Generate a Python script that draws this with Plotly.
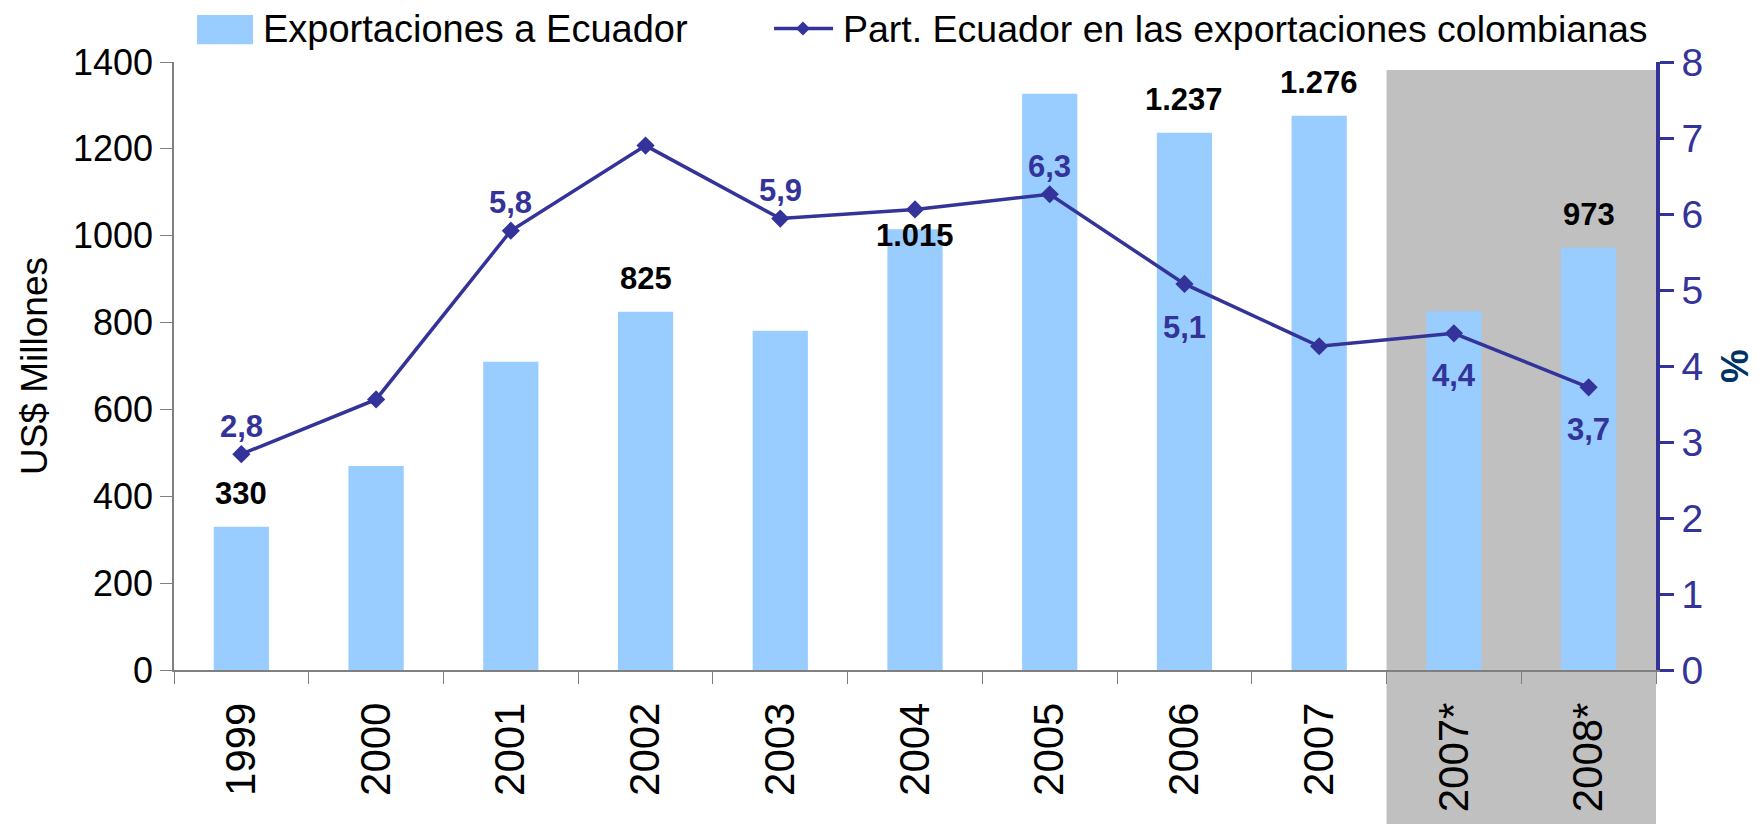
import plotly.graph_objects as go

# ---- data ----
categories = ["1999", "2000", "2001", "2002", "2003", "2004", "2005", "2006", "2007", "2007*", "2008*"]
export_values = [330, 470, 710, 825, 781, 1015, 1327, 1237, 1276, 826, 973]
share_values = [2.84, 3.56, 5.78, 6.90, 5.94, 6.06, 6.26, 5.08, 4.26, 4.43, 3.72]
bar_label_idx = [0, 3, 5, 7, 8, 10]
bar_label_shift = [33, 33, -6, 33, 33, 33]
line_label_idx = [0, 2, 4, 6, 7, 9, 10]
line_label_shift = [28, 28, 28, 28, -44, -42, -42]
left_ticks = [0, 200, 400, 600, 800, 1000, 1200, 1400]
right_ticks = [0, 1, 2, 3, 4, 5, 6, 7, 8]

BAR_COLOR = "#99CCFF"
LINE_COLOR = "#333399"
GRAY = "#C0C0C0"
FONT = "Liberation Sans, Arial, sans-serif"

fig = go.Figure()
fig.add_trace(go.Bar(
    x=categories, y=export_values, name="Exportaciones a Ecuador",
    marker=dict(color=BAR_COLOR, line=dict(width=0)), showlegend=False,
))
fig.add_trace(go.Scatter(
    x=categories, y=share_values, yaxis="y2", mode="lines+markers",
    name="Part. Ecuador en las exportaciones colombianas",
    line=dict(color=LINE_COLOR, width=3.5),
    marker=dict(symbol="diamond", size=14, color=LINE_COLOR),
    showlegend=False, cliponaxis=False,
))

annotations = []
for i, s in zip(bar_label_idx, bar_label_shift):
    txt = f"{export_values[i]:,}".replace(",", ".")
    annotations.append(dict(x=i, y=export_values[i], xref="x", yref="y",
                            text=f"<b>{txt}</b>", showarrow=False, yshift=s,
                            font=dict(size=31, color="black", family=FONT)))
for i, s in zip(line_label_idx, line_label_shift):
    txt = f"{share_values[i]:.1f}".replace(".", ",")
    annotations.append(dict(x=i, y=share_values[i], xref="x", yref="y2",
                            text=f"<b>{txt}</b>", showarrow=False, yshift=s,
                            font=dict(size=31, color=LINE_COLOR, family=FONT)))

# custom legend texts
annotations.append(dict(x=0.0587, y=1.055, xref="paper", yref="paper", xanchor="left",
                        yanchor="middle", showarrow=False, text="Exportaciones a Ecuador",
                        font=dict(size=38, color="black", family=FONT)))
annotations.append(dict(x=0.450, y=1.055, xref="paper", yref="paper", xanchor="left",
                        yanchor="middle", showarrow=False,
                        text="Part. Ecuador en las exportaciones colombianas",
                        font=dict(size=37.5, color="black", family=FONT)))

shapes = [
    # gray highlighted (estimated) period
    dict(type="rect", xref="x", yref="paper", x0=8.5, x1=10.5, y0=-0.35, y1=0.987,
         fillcolor=GRAY, line=dict(width=0), layer="below"),
    # legend symbols
    dict(type="rect", xref="paper", yref="paper", x0=0.0155, x1=0.0533, y0=1.029, y1=1.0775,
         fillcolor=BAR_COLOR, line=dict(width=0)),
    dict(type="line", xref="paper", yref="paper", x0=0.4049, x1=0.4447, y0=1.055, y1=1.055,
         line=dict(color=LINE_COLOR, width=3.5)),
    dict(type="path", xref="paper", yref="paper", xsizemode="pixel", ysizemode="pixel",
         xanchor=0.4244, yanchor=1.055, path="M -7,0 L 0,7 L 7,0 L 0,-7 Z",
         fillcolor=LINE_COLOR, line=dict(width=0)),
]

fig.update_layout(
    width=1756, height=816,
    margin=dict(l=166, r=108, t=54, b=143),
    paper_bgcolor="white", plot_bgcolor="rgba(0,0,0,0)",
    bargap=0.59,
    font=dict(family=FONT, color="black"),
    showlegend=False,
    annotations=annotations,
    shapes=shapes,
    xaxis=dict(
        type="category", range=[-0.5, 10.5], tickangle=-90,
        tickfont=dict(size=42, color="black"), ticks="outside", tickson="boundaries",
        ticklen=12, tickcolor="#808080", showline=True, linecolor="#808080", linewidth=1.5,
        showgrid=False, ticklabelstandoff=14,
    ),
    yaxis=dict(
        range=[0, 1400], tickvals=left_ticks, showgrid=False, zeroline=False,
        showline=True, linecolor="#808080", linewidth=1.5, ticks="outside", ticklen=12,
        tickcolor="#808080", tickfont=dict(size=36, color="black"),
        title=dict(text="US$ Millones", font=dict(size=37, color="black"), standoff=14),
    ),
    yaxis2=dict(
        overlaying="y", side="right", range=[0, 8], tickvals=right_ticks, showgrid=False,
        zeroline=False, showline=True, linecolor=LINE_COLOR, linewidth=3.5, ticks="outside",
        ticklen=14, tickwidth=3, tickcolor=LINE_COLOR, tickfont=dict(size=39, color=LINE_COLOR),
        title=dict(text="<b>%</b>", font=dict(size=38, color="#003366"), standoff=20),
    ),
)

fig.write_html("out.html")
